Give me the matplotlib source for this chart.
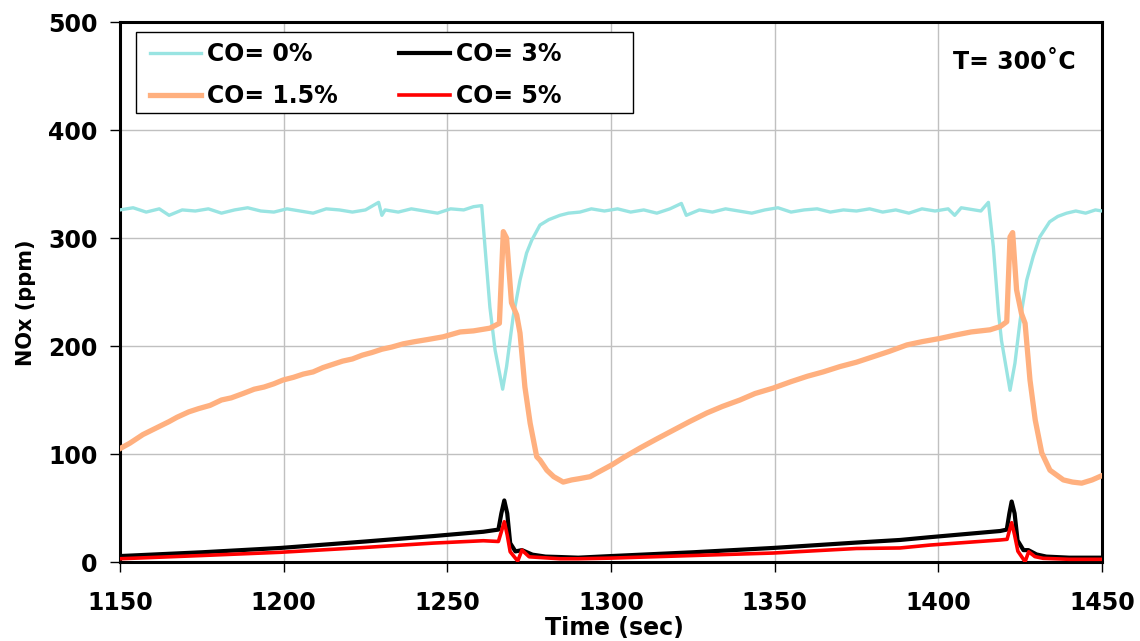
import matplotlib
matplotlib.use('Agg')
import matplotlib.pyplot as plt
from matplotlib.patches import Rectangle

# CO = 0 %
co0_t = [1150, 1154, 1158, 1162, 1165, 1169, 1173, 1177, 1181, 1185, 1189, 1193, 1197, 1201,
         1205, 1209, 1213, 1217, 1221, 1225, 1229, 1230, 1231, 1235, 1239, 1243, 1247, 1251,
         1255, 1258, 1260.5, 1261.5, 1263, 1264.6, 1266.9, 1268.1, 1270.1, 1272.2, 1274.2,
         1275.8, 1278.3, 1281, 1284.4, 1287, 1290.5, 1294, 1298, 1302, 1306, 1310, 1314, 1318,
         1321.5, 1323, 1327, 1331, 1335, 1339, 1343, 1347, 1351, 1355, 1359, 1363, 1367, 1371,
         1375, 1379, 1383, 1387, 1391, 1395, 1399, 1403, 1405, 1407, 1411, 1413, 1415.3, 1416.8,
         1418.4, 1419.3, 1421.9, 1423.4, 1425, 1427, 1429, 1431, 1434, 1436.5, 1439.2, 1442,
         1445, 1448, 1450]
co0_v = [326, 328, 324, 327, 321, 326, 325, 327, 323, 326, 328, 325, 324, 327,
         325, 323, 327, 326, 324, 326, 333, 321, 326, 324, 327, 325, 323, 327,
         326, 329, 330, 292, 236, 196, 160, 181, 227, 261, 286,
         298, 312, 317, 321, 323, 324, 327, 325, 327, 324, 326, 323, 327,
         332, 321, 326, 324, 327, 325, 323, 326, 328, 324, 326, 327, 324, 326,
         325, 327, 324, 326, 323, 327, 325, 327, 321, 328, 326, 325, 333, 292,
         230, 205, 159, 184, 224, 261, 283, 301, 315, 320, 323, 325,
         323, 326, 325]

# CO = 1.5 %
co15_t = [1150, 1153, 1157, 1161, 1165, 1167.4, 1171, 1174, 1177.5, 1181, 1184, 1187.6, 1191,
          1194, 1197, 1199.8, 1203, 1206, 1209, 1212, 1215, 1218, 1221, 1224, 1227, 1230, 1233,
          1236.5, 1240, 1244, 1248.7, 1253.9, 1258, 1263, 1265.9, 1267.1, 1268.1, 1269.6, 1271.2,
          1272.2, 1273.7, 1275.3, 1277.3, 1278.3, 1280.4, 1282.5, 1285.4, 1288, 1290, 1293.6,
          1296, 1300.3, 1304, 1308.9, 1314, 1319, 1324, 1329.3, 1334, 1339.4, 1344, 1349.5, 1355,
          1360, 1364.8, 1370, 1375, 1380, 1385, 1390.4, 1395, 1400.5, 1405, 1410, 1415.8, 1418.9,
          1420.9, 1421.9, 1422.7, 1423.9, 1425.4, 1426.5, 1428, 1429.6, 1431.6, 1434.1, 1438.2,
          1441, 1443.8, 1447, 1450]
co15_v = [105, 110, 118, 124, 130, 134, 139, 142, 145, 150, 152, 156, 160,
          162, 165, 168.5, 171, 174, 176, 180, 183, 186, 188, 191.5, 194, 197, 199,
          202, 204, 206, 208.5, 213, 214, 216.5, 221, 305.9, 300, 240, 228.7,
          212, 162, 128.5, 97.5, 94.4, 85, 79, 74, 76, 77, 79,
          83, 90, 97, 105.6, 114, 122, 130, 138, 144, 150, 156, 161, 167,
          172, 176, 181, 185, 190, 195, 201, 204, 207, 210, 213, 215, 218,
          222.5, 301, 305, 252, 230, 221, 168.5, 131.5, 101, 85, 76,
          74, 73, 76, 80]

# CO = 3 %
co3_t = [1150, 1175, 1199, 1225, 1245.7, 1261, 1265.6, 1266.5, 1267.4, 1268.3, 1269.2, 1270.8,
         1272.8, 1276, 1280, 1284.4, 1290, 1300, 1325, 1349.5, 1375, 1388.3, 1397.5, 1418.9,
         1420.9, 1421.7, 1422.4, 1423.3, 1424.2, 1426, 1427.5, 1430, 1433, 1440, 1450]
co3_v = [5.5, 9, 13, 19, 24, 28, 30, 45, 57, 45, 17.5, 9.8,
         11, 6.8, 5, 4.6, 4, 5.5, 9, 13, 18, 20.4, 23, 28.7,
         30, 45, 56, 45, 20, 11, 11, 7, 5, 4, 4]

# CO = 5 %
co5_t = [1150, 1175, 1199, 1225, 1245.7, 1261, 1265.6, 1266.5, 1267.4, 1268.3, 1269.2, 1271.5,
         1272.8, 1275, 1284.4, 1290, 1300, 1325, 1349.5, 1375, 1388.3, 1397.5, 1418.9, 1421,
         1421.8, 1422.4, 1423.3, 1424.3, 1426.5, 1427.6, 1429.5, 1432, 1440, 1450]
co5_v = [3, 6, 9, 13.5, 17.5, 19.7, 19, 28, 37.3, 25, 9.5, 0.9,
         11, 4.8, 3, 3, 3.6, 6, 8.3, 12.5, 13, 15.7, 20.4, 21,
         30, 36.4, 25, 10, 0.3, 9.5, 5, 3.4, 2.5, 2.5]

x_ticks = [1150, 1200, 1250, 1300, 1350, 1400, 1450]
y_ticks = [0, 100, 200, 300, 400, 500]

plt.rcParams['font.family'] = ['DejaVu Sans']
plt.rcParams['font.weight'] = 'bold'

fig = plt.figure(figsize=(11.4, 6.41), dpi=100)
ax = fig.add_axes([120/1140, 1 - 562/641, 982/1140, 540/641])

ax.plot(co0_t, co0_v, color='#99E4E2', lw=2.4, label='CO= 0%', zorder=3)
ax.plot(co15_t, co15_v, color='#FFB07F', lw=3.8, label='CO= 1.5%', zorder=3)
ax.plot(co3_t, co3_v, color='black', lw=3.0, label='CO= 3%', zorder=3)
ax.plot(co5_t, co5_v, color='#FF0000', lw=2.6, label='CO= 5%', zorder=3)

ax.set_xlim(1150, 1450)
ax.set_ylim(0, 500)
ax.set_xticks(x_ticks)
ax.set_yticks(y_ticks)
ax.grid(True, color='#C0C0C0', lw=1.0, zorder=0)
ax.set_axisbelow(True)
for sp in ax.spines.values():
    sp.set_linewidth(2.2)
    sp.set_color('black')
ax.tick_params(axis='both', direction='out', length=7, width=1, labelsize=17)
ax.tick_params(axis='x', pad=14)
ax.tick_params(axis='y', pad=9)

ax.set_xlabel('Time (sec)', fontsize=17, fontweight='bold', va='top')
ax.xaxis.set_label_coords(0.503, -0.1)
ax.set_ylabel('NOx (ppm)', fontsize=15, fontweight='bold')
ax.yaxis.set_label_coords(-0.086, 0.48)

# legend frame
ax.add_patch(Rectangle((15.7/982, 449.3/540), 497/982, 81/540, transform=ax.transAxes,
                       facecolor='white', edgecolor='black', lw=1.0, zorder=4))
leg = ax.legend(loc='upper left', bbox_to_anchor=(30/982, 520/540), ncol=2, frameon=False,
                fontsize=17, handlelength=2.16, handletextpad=0.25, columnspacing=2.6,
                labelspacing=0.77, borderpad=0, borderaxespad=0)
leg.set_zorder(5)

ax.text(894.5/982, 500.3/540, 'T= 300˚C', transform=ax.transAxes, ha='center', va='center',
        fontsize=17, fontweight='bold')

fig.savefig('out.png', dpi=100)
